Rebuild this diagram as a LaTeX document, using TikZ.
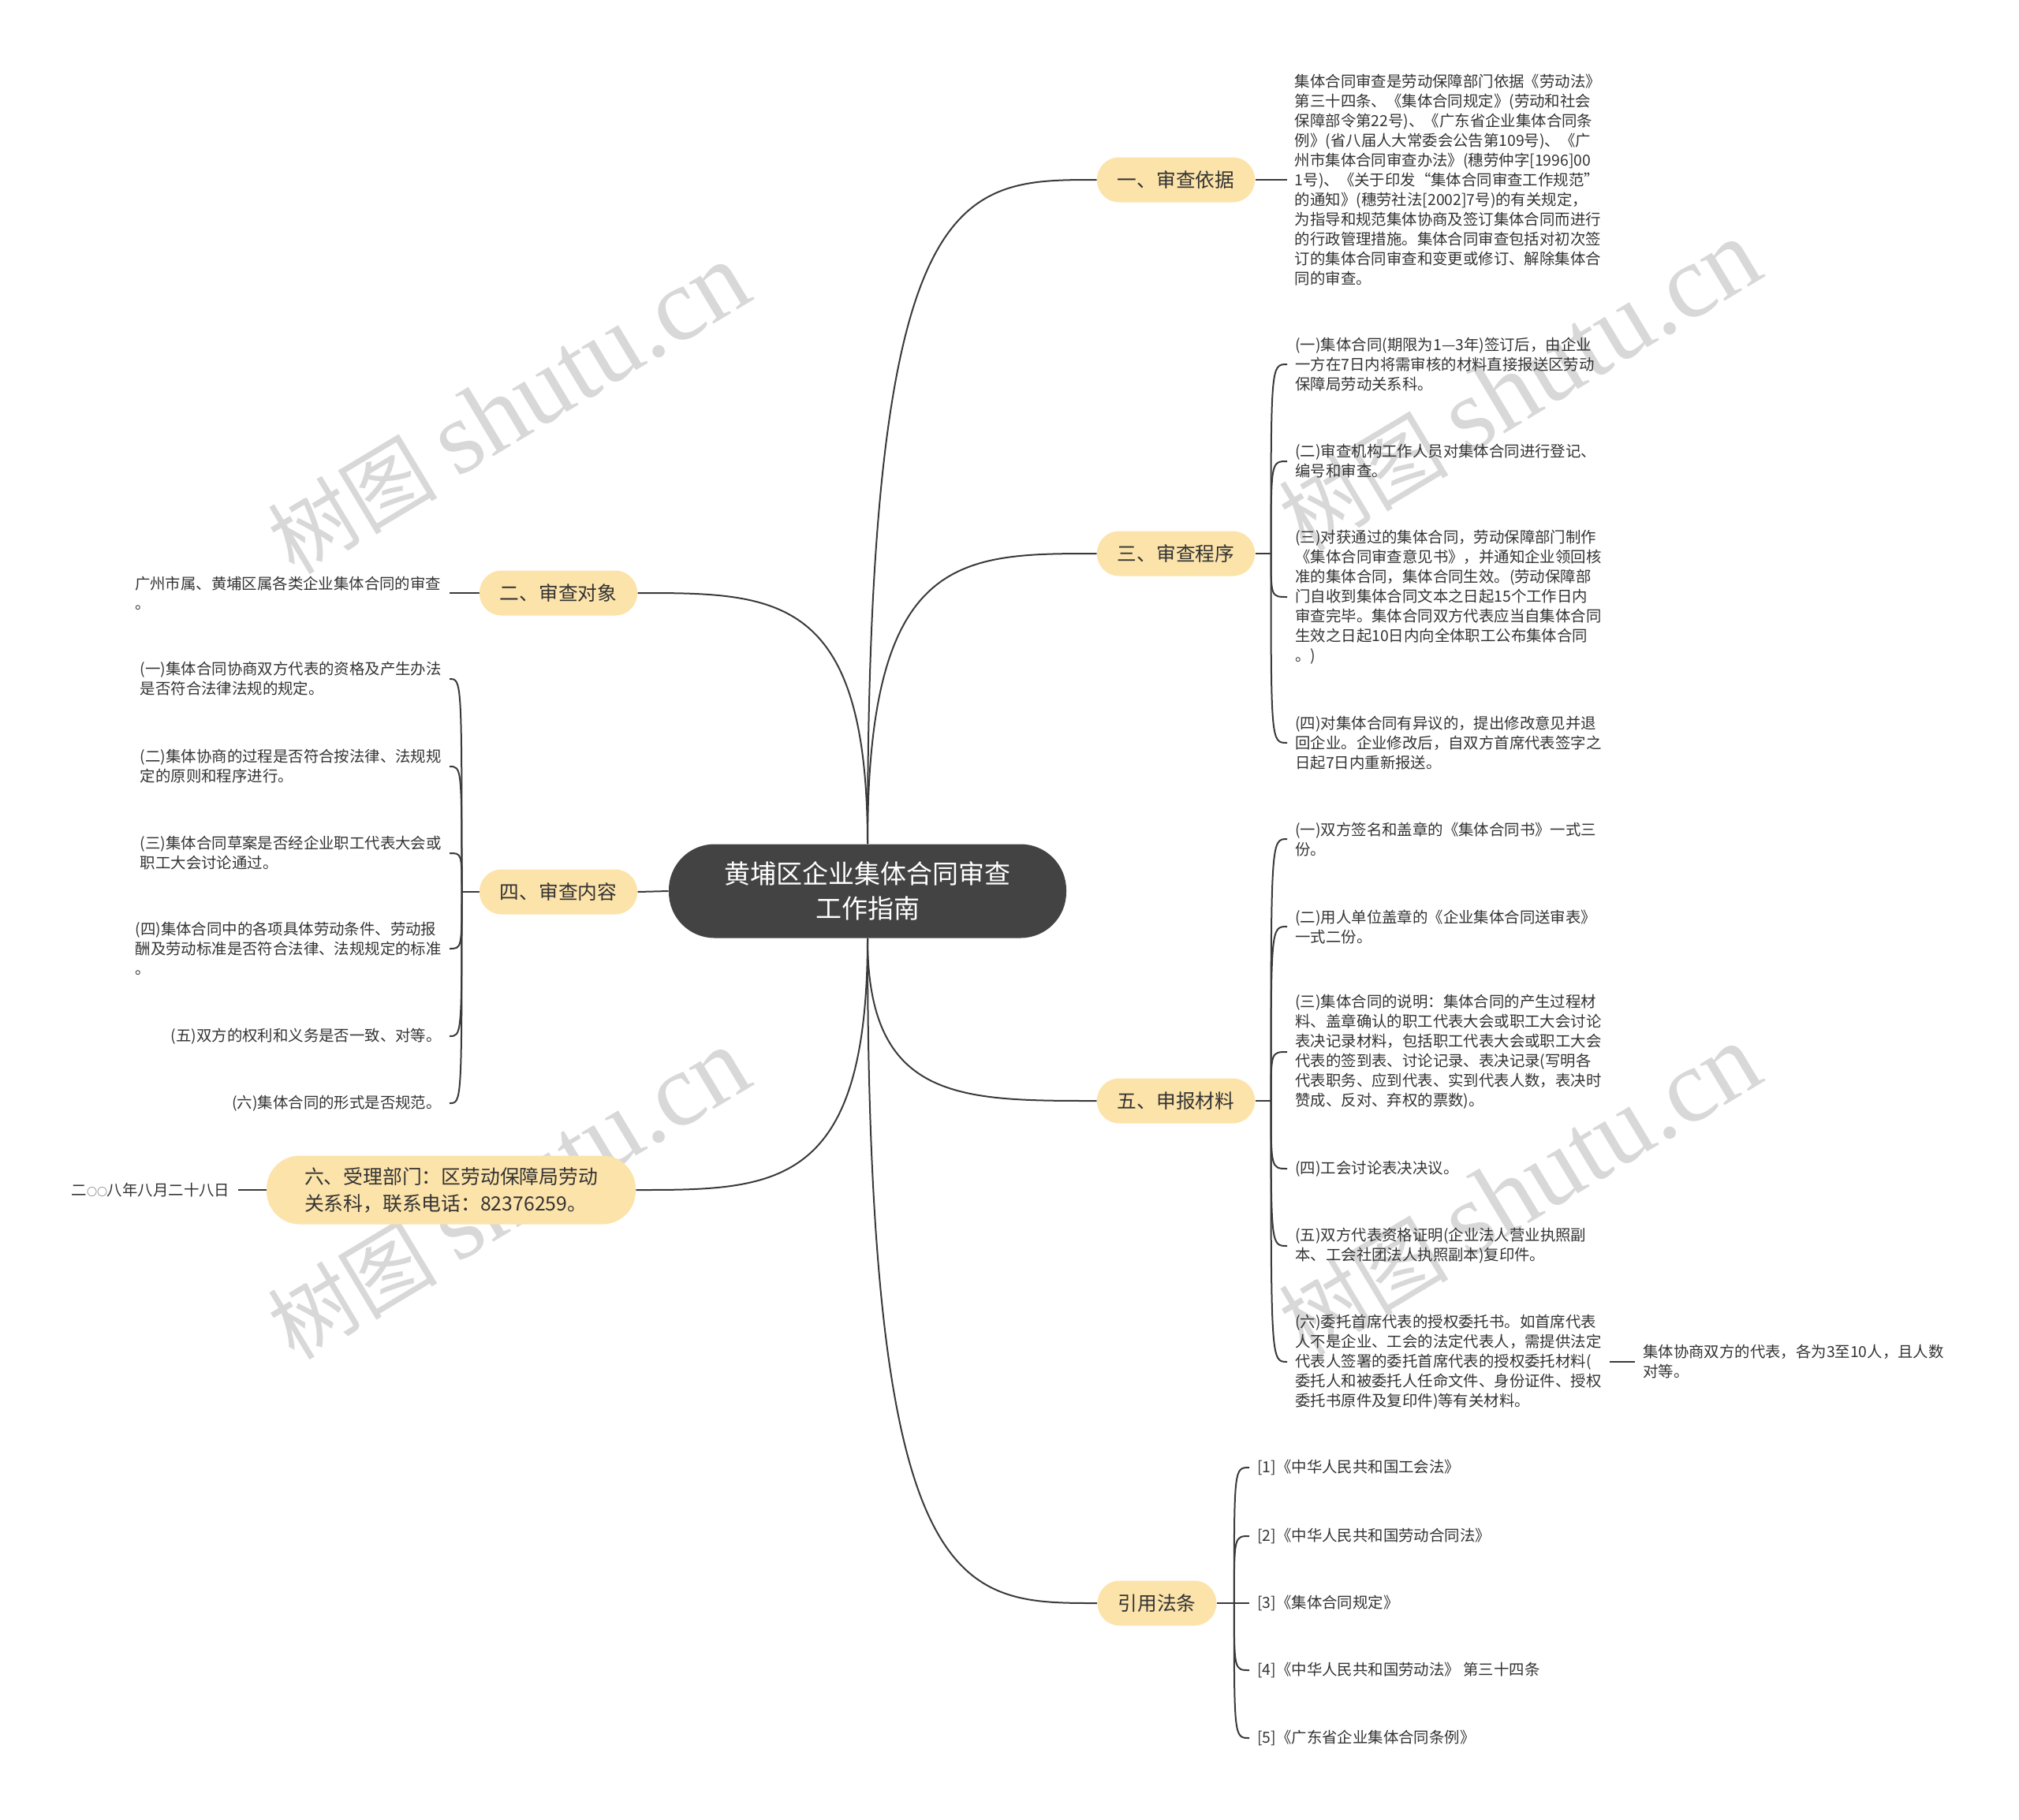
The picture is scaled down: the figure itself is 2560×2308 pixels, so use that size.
\documentclass[tikz,border=0pt]{standalone}
\usepackage{fontspec}
\setmainfont{Noto Sans CJK SC}
\newfontfamily\wmserif{Liberation Serif}
\usetikzlibrary{positioning,calc,backgrounds}
\definecolor{rootgray}{HTML}{434343}
\definecolor{topicyellow}{HTML}{FCE3AA}
\definecolor{inkgray}{HTML}{333333}
\definecolor{linegray}{HTML}{3A3A3A}
\definecolor{markgray}{HTML}{D8D8D8}

\begin{document}
\begin{tikzpicture}[
  x=0.5pt, y=-0.5pt,
  root/.style={fill=rootgray,text=white,rounded corners=29pt,minimum width=252pt,minimum height=59.5pt,align=center,font=\fontsize{16.5pt}{22pt}\selectfont},
  topic/.style={fill=topicyellow,text=inkgray,rounded corners=14pt,minimum height=28.5pt,inner xsep=13pt,font=\fontsize{12.35pt}{15pt}\selectfont},
  leaf/.style={align=left,text=inkgray,inner sep=5pt,font=\fontsize{9.7pt}{12.5pt}\selectfont},
  wmark/.style={text=markgray,rotate=31,font=\fontsize{54pt}{60pt}\selectfont},
  link/.style={draw=linegray,line width=1pt}
]
\useasboundingbox (0,0) rectangle (2560,2308);

% 中心主题
\node[root] (ctr) at (1100,1130) {黄埔区企业集体合同审查\\工作指南};

% 右侧分支
\node[topic] (b1) at (1491,228) {一、审查依据};
\node[topic] (b3) at (1491,702) {三、审查程序};
\node[topic] (b5) at (1491,1396) {五、申报材料};
\node[topic] (b7) at (1467,2033) {引用法条};
% 左侧分支
\node[topic] (b2) at (708,752) {二、审查对象};
\node[topic] (b4) at (708,1131) {四、审查内容};
\node[topic,align=left,text width=186pt,inner xsep=24pt,minimum height=43.5pt,rounded corners=21pt,
  font=\fontsize{12.4pt}{17pt}\selectfont] (b6) at (572,1509) {六、受理部门：区劳动保障局劳动\\关系科，联系电话：82376259。};

% 一、审查依据
\node[leaf,right=20pt of b1] (l1) {集体合同审查是劳动保障部门依据《劳动法》\\第三十四条、《集体合同规定》(劳动和社会\\保障部令第22号)、《广东省企业集体合同条\\例》(省八届人大常委会公告第109号)、《广\\州市集体合同审查办法》(穗劳仲字[1996]00\\1号)、《关于印发“集体合同审查工作规范”\\的通知》(穗劳社法[2002]7号)的有关规定，\\为指导和规范集体协商及签订集体合同而进行\\的行政管理措施。集体合同审查包括对初次签\\订的集体合同审查和变更或修订、解除集体合\\同的审查。};

% 三、审查程序
\node[leaf,anchor=west] (l31) at (1632,462) {(一)集体合同(期限为1—3年)签订后，由企业\\一方在7日内将需审核的材料直接报送区劳动\\保障局劳动关系科。};
\node[leaf,anchor=west] (l32) at (1632,585) {(二)审查机构工作人员对集体合同进行登记、\\编号和审查。};
\node[leaf,anchor=west] (l33) at (1632,757) {(三)对获通过的集体合同，劳动保障部门制作\\《集体合同审查意见书》，并通知企业领回核\\准的集体合同，集体合同生效。(劳动保障部\\门自收到集体合同文本之日起15个工作日内\\审查完毕。集体合同双方代表应当自集体合同\\生效之日起10日内向全体职工公布集体合同\\。)};
\node[leaf,anchor=west] (l34) at (1632,942) {(四)对集体合同有异议的，提出修改意见并退\\回企业。企业修改后，自双方首席代表签字之\\日起7日内重新报送。};

% 五、申报材料
\node[leaf,anchor=west] (l51) at (1632,1064) {(一)双方签名和盖章的《集体合同书》一式三\\份。};
\node[leaf,anchor=west] (l52) at (1632,1175) {(二)用人单位盖章的《企业集体合同送审表》\\一式二份。};
\node[leaf,anchor=west] (l53) at (1632,1334) {(三)集体合同的说明：集体合同的产生过程材\\料、盖章确认的职工代表大会或职工大会讨论\\表决记录材料，包括职工代表大会或职工大会\\代表的签到表、讨论记录、表决记录(写明各\\代表职务、应到代表、实到代表人数，表决时\\赞成、反对、弃权的票数)。};
\node[leaf,anchor=west] (l54) at (1632,1482) {(四)工会讨论表决决议。};
\node[leaf,anchor=west] (l55) at (1632,1580) {(五)双方代表资格证明(企业法人营业执照副\\本、工会社团法人执照副本)复印件。};
\node[leaf,anchor=west] (l56) at (1632,1727) {(六)委托首席代表的授权委托书。如首席代表\\人不是企业、工会的法定代表人，需提供法定\\代表人签署的委托首席代表的授权委托材料(\\委托人和被委托人任命文件、身份证件、授权\\委托书原件及复印件)等有关材料。};
\node[leaf,right=16pt of l56] (l561) {集体协商双方的代表，各为3至10人，且人数\\对等。};

% 引用法条
\node[leaf,anchor=west] (l71) at (1584,1861) {[1]《中华人民共和国工会法》};
\node[leaf,anchor=west] (l72) at (1584,1948) {[2]《中华人民共和国劳动合同法》};
\node[leaf,anchor=west] (l73) at (1584,2033) {[3]《集体合同规定》};
\node[leaf,anchor=west] (l74) at (1584,2118) {[4]《中华人民共和国劳动法》 第三十四条};
\node[leaf,anchor=west] (l75) at (1584,2204) {[5]《广东省企业集体合同条例》};

% 二、审查对象
\node[leaf,left=19pt of b2] (l2) {广州市属、黄埔区属各类企业集体合同的审查\\。};

% 四、审查内容
\node[leaf,anchor=east] (l41) at (570,861) {(一)集体合同协商双方代表的资格及产生办法\\是否符合法律法规的规定。};
\node[leaf,anchor=east] (l42) at (570,972) {(二)集体协商的过程是否符合按法律、法规规\\定的原则和程序进行。};
\node[leaf,anchor=east] (l43) at (570,1082) {(三)集体合同草案是否经企业职工代表大会或\\职工大会讨论通过。};
\node[leaf,anchor=east] (l44) at (570,1203) {(四)集体合同中的各项具体劳动条件、劳动报\\酬及劳动标准是否符合法律、法规规定的标准\\。};
\node[leaf,anchor=east] (l45) at (570,1314) {(五)双方的权利和义务是否一致、对等。};
\node[leaf,anchor=east] (l46) at (570,1399) {(六)集体合同的形式是否规范。};

% 六、受理部门
\node[leaf,left=18pt of b6] (l6) {二{\fontsize{6.5pt}{8pt}\selectfont ○○}八年八月二十八日};

% 分叉点
\coordinate[right=10pt of b3] (f3);
\coordinate[right=10pt of b5] (f5);
\coordinate[right=11pt of b7] (f7);
\coordinate[left=11pt of b4] (f4);

\begin{scope}[on background layer]
  % 水印
  \foreach \wx/\wy [count=\i] in {645/519,1927/490,645/1515,1927/1510}
    \node[wmark] (wm\i) at (\wx,\wy) {树图 {\wmserif\fontsize{66pt}{70pt}\selectfont shutu.cn}};
  % 中心到分支
  \foreach \topicnode/\side in {b1/north,b3/north,b5/south,b7/south}
    \draw[link] (ctr.\side) .. controls (ctr.\side |- \topicnode.west) and ($(ctr.\side |- \topicnode.west)!0.4!(\topicnode.west)$) .. (\topicnode.west);
  \foreach \topicnode/\side in {b2/north,b6/south}
    \draw[link] (ctr.\side) .. controls (ctr.\side |- \topicnode.east) and ($(ctr.\side |- \topicnode.east)!0.4!(\topicnode.east)$) .. (\topicnode.east);
  \draw[link] (ctr.west) -- (b4.east);
  % 分支到子项
  \draw[link] (b1.east) -- (l1.west);
  \draw[link] (b2.west) -- (l2.east);
  \draw[link] (b6.west) -- (l6.east);
  \draw[link] (l56.east) -- (l561.west);
  \draw[link] (b3.east) -- (f3);
  \draw[link] (b5.east) -- (f5);
  \draw[link] (b7.east) -- (f7);
  \draw[link] (b4.west) -- (f4);
  \foreach \leafnode in {l31,l32,l33,l34}
    \draw[link] (f3) .. controls (f3 |- \leafnode.west) .. (\leafnode.west);
  \foreach \leafnode in {l51,l52,l53,l54,l55,l56}
    \draw[link] (f5) .. controls (f5 |- \leafnode.west) .. (\leafnode.west);
  \foreach \leafnode in {l71,l72,l73,l74,l75}
    \draw[link] (f7) .. controls (f7 |- \leafnode.west) .. (\leafnode.west);
  \foreach \leafnode in {l41,l42,l43,l44,l45,l46}
    \draw[link] (f4) .. controls (f4 |- \leafnode.east) .. (\leafnode.east);
\end{scope}
\end{tikzpicture}
\end{document}
